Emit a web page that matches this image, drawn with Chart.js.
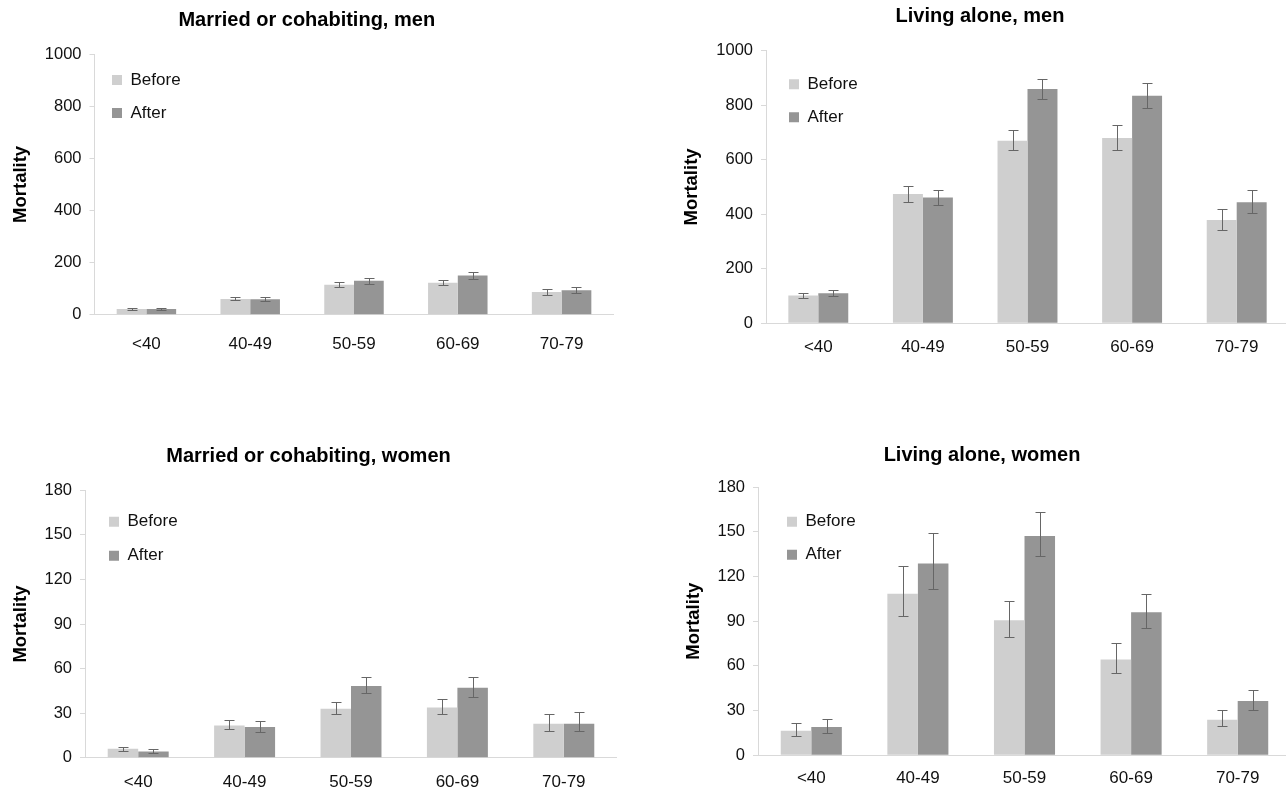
<!DOCTYPE html>
<html>
<head>
<meta charset="utf-8">
<script src="https://cdn.jsdelivr.net/npm/chart.js@4"></script>
<style>
  html, body { margin: 0; padding: 0; background: #fff; overflow: hidden; }
  #page { position: relative; width: 1286px; height: 792px; overflow: hidden; }
  canvas { position: absolute; }
</style>
</head>
<body>
<div id="page">
  <canvas id="marriedMen"></canvas>
  <canvas id="aloneMen"></canvas>
  <canvas id="marriedWomen"></canvas>
  <canvas id="aloneWomen"></canvas>
</div>
<script>
const ageGroups = ['<40', '40-49', '50-59', '60-69', '70-79'];
const seriesNames = ['Before', 'After'];
const menTicks = [0, 200, 400, 600, 800, 1000];
const womenTicks = [0, 30, 60, 90, 120, 150, 180];

// Married or cohabiting, men
const marriedMenBefore = [22, 61, 115, 123, 87];
const marriedMenBeforeLow = [18, 55, 106, 113, 77];
const marriedMenBeforeHigh = [26, 70, 124, 134, 99];
const marriedMenAfter = [22, 60, 131, 151, 94];
const marriedMenAfterLow = [18, 52, 118, 138, 83];
const marriedMenAfterHigh = [26, 69, 140, 164, 108];

// Living alone, men
const aloneMenBefore = [102, 474, 670, 680, 379];
const aloneMenBeforeLow = [92, 446, 637, 635, 343];
const aloneMenBeforeHigh = [110, 505, 710, 727, 420];
const aloneMenAfter = [110, 461, 859, 835, 444];
const aloneMenAfterLow = [99, 435, 822, 789, 406];
const aloneMenAfterHigh = [121, 489, 897, 882, 487];

// Married or cohabiting, women
const marriedWomenBefore = [6.1, 21.8, 33, 33.9, 22.9];
const marriedWomenBeforeLow = [4.7, 19.1, 29.2, 29.2, 17.8];
const marriedWomenBeforeHigh = [7.6, 25.4, 37.3, 39.8, 29.7];
const marriedWomenAfter = [4.3, 20.7, 48.3, 47.2, 22.9];
const marriedWomenAfterLow = [3.4, 17.1, 43.4, 41.1, 17.8];
const marriedWomenAfterHigh = [6.1, 24.7, 54.2, 54.4, 30.8];

// Living alone, women
const aloneWomenBefore = [16.4, 108.4, 90.7, 64.2, 23.8];
const aloneWomenBeforeLow = [12.8, 93.4, 79.4, 55.4, 19.5];
const aloneWomenBeforeHigh = [21.3, 127.2, 103.6, 75.4, 30.1];
const aloneWomenAfter = [18.9, 128.8, 147.2, 96, 36.4];
const aloneWomenAfterLow = [15, 111.5, 133.8, 85.3, 30.5];
const aloneWomenAfterHigh = [24.2, 149, 163.2, 108.6, 43.8];

const FONT = '"Liberation Sans", Arial, Helvetica, sans-serif';
const colBefore = '#cfcfcf';
const colAfter = '#959595';
const axisCol = '#d9d9d9';

// error bars drawn from the y scale
const errorBars = {
  id: 'errorBars',
  afterDatasetsDraw(chart) {
    const ctx = chart.ctx;
    const y = chart.scales.y;
    ctx.save();
    ctx.strokeStyle = '#666';
    ctx.lineWidth = 1;
    chart.data.datasets.forEach((ds, i) => {
      if (!chart.isDatasetVisible(i)) return;
      chart.getDatasetMeta(i).data.forEach((bar, j) => {
        const top = Math.round(y.getPixelForValue(ds.errHigh[j])) + 0.5;
        const bot = Math.round(y.getPixelForValue(ds.errLow[j])) + 0.5;
        const x = Math.round(bar.x) + 0.5;
        ctx.beginPath();
        ctx.moveTo(x, top); ctx.lineTo(x, bot);
        ctx.moveTo(x - 5, top); ctx.lineTo(x + 5, top);
        ctx.moveTo(x - 5, bot); ctx.lineTo(x + 5, bot);
        ctx.stroke();
      });
    });
    ctx.restore();
  }
};

// put the legend inside the plot, top left
const legendShift = {
  id: 'legendShift',
  afterLayout(chart, args, opts) {
    if (!chart.legend) return;
    chart.legend.left = chart.chartArea.left + (opts.dx || 0);
    chart.legend.top = chart.chartArea.top + (opts.dy || 0);
  }
};

function makeChart(id, title, ticks, series, box) {
  const cv = document.getElementById(id);
  cv.width = box.w; cv.height = box.h;
  cv.style.left = box.left + 'px';
  cv.style.top = box.top + 'px';

  const titleTop = box.titleY - box.top - 12;
  const titleBottom = box.areaTop - box.top - titleTop - 24;
  const padRight = box.left + box.w - box.areaRight;
  const padBottom = box.h - (box.areaBottom - box.top) - 2 * box.xPad - 20.9;

  return new Chart(cv, {
    type: 'bar',
    data: {
      labels: ageGroups,
      datasets: [
        { label: seriesNames[0], data: series[0], errLow: series[1], errHigh: series[2],
          backgroundColor: colBefore, borderWidth: 0 },
        { label: seriesNames[1], data: series[3], errLow: series[4], errHigh: series[5],
          backgroundColor: colAfter, borderWidth: 0 }
      ]
    },
    options: {
      responsive: false,
      animation: false,
      devicePixelRatio: 1,
      layout: { padding: { left: 0, top: 0, right: padRight, bottom: padBottom } },
      datasets: { bar: { categoryPercentage: 0.573, barPercentage: 1.0 } },
      plugins: {
        title: {
          display: true, text: title, color: '#000',
          font: { family: FONT, size: 20, weight: 'bold' },
          padding: { top: titleTop, bottom: titleBottom }
        },
        legend: {
          position: 'chartArea', align: 'start',
          labels: {
            boxWidth: 10, boxHeight: 10, padding: box.legPad,
            color: '#111', font: { family: FONT, size: 17 }
          }
        },
        legendShift: { dx: box.legDx, dy: box.legDy },
        tooltip: { enabled: false }
      },
      scales: {
        x: {
          grid: { display: true, drawOnChartArea: false, drawTicks: false },
          border: { display: true, color: axisCol, width: 1 },
          ticks: { color: '#111', padding: box.xPad, font: { family: FONT, size: 17 } }
        },
        y: {
          min: ticks[0], max: ticks[ticks.length - 1],
          afterBuildTicks: (s) => { s.ticks = ticks.map(v => ({ value: v })); },
          afterFit: (s) => { s.width = box.yw; },
          grid: { display: true, drawOnChartArea: false, drawTicks: true, tickLength: 5, color: axisCol },
          border: { display: true, color: axisCol, width: 1 },
          ticks: { color: '#111', padding: 8, font: { family: FONT, size: 16.5 },
                   callback: (v) => String(v) },
          title: {
            display: true, text: 'Mortality', color: '#000',
            font: { family: FONT, size: 18.5, weight: 'bold' },
            padding: { top: 9.5, bottom: 0 }
          }
        }
      }
    },
    plugins: [errorBars, legendShift]
  });
}

makeChart('marriedMen', 'Married or cohabiting, men', menTicks,
  [marriedMenBefore, marriedMenBeforeLow, marriedMenBeforeHigh, marriedMenAfter, marriedMenAfterLow, marriedMenAfterHigh],
  { left: 0, top: 0, w: 615, h: 385, yw: 94.5, areaRight: 613.5, areaTop: 54, areaBottom: 314.3,
    titleY: 20, xPad: 19.8, legPad: 16, legDx: 1.5, legDy: 1.5 });

makeChart('aloneMen', 'Living alone, men', menTicks,
  [aloneMenBefore, aloneMenBeforeLow, aloneMenBeforeHigh, aloneMenAfter, aloneMenAfterLow, aloneMenAfterHigh],
  { left: 671, top: 0, w: 618, h: 385, yw: 95, areaRight: 1289, areaTop: 50.7, areaBottom: 322.7,
    titleY: 16, xPad: 13.8, legPad: 16, legDx: 7, legDy: 9 });

makeChart('marriedWomen', 'Married or cohabiting, women', womenTicks,
  [marriedWomenBefore, marriedWomenBeforeLow, marriedWomenBeforeHigh, marriedWomenAfter, marriedWomenAfterLow, marriedWomenAfterHigh],
  { left: 0, top: 420, w: 617, h: 400, yw: 85, areaRight: 617, areaTop: 490.3, areaBottom: 757.3,
    titleY: 456.7, xPad: 14.2, legPad: 17, legDx: 7, legDy: 6 });

makeChart('aloneWomen', 'Living alone, women', womenTicks,
  [aloneWomenBefore, aloneWomenBeforeLow, aloneWomenBeforeHigh, aloneWomenAfter, aloneWomenAfterLow, aloneWomenAfterHigh],
  { left: 672.5, top: 420, w: 618, h: 400, yw: 85, areaRight: 1290.5, areaTop: 487.2, areaBottom: 754.7,
    titleY: 455, xPad: 13.4, legPad: 16, legDx: 13, legDy: 10 });
</script>
</body>
</html>
